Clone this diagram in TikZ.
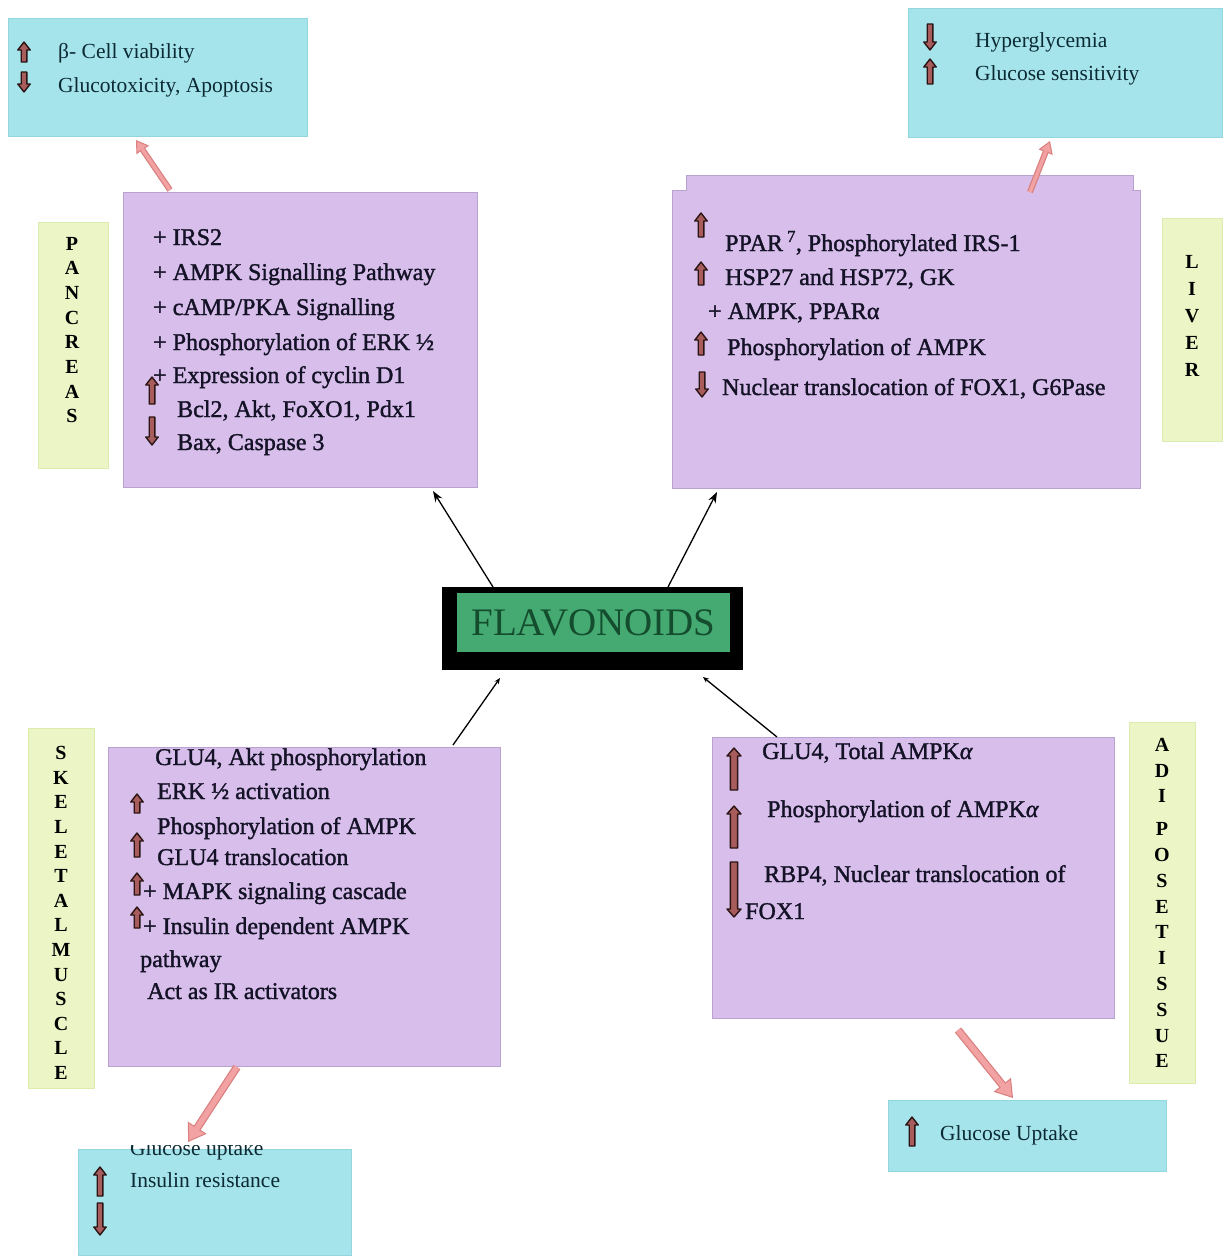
\documentclass[tikz,border=0pt]{standalone}
\usepackage{fontspec}
\setmainfont{Liberation Serif}
\newfontfamily\heavyserif[FakeBold=1.4]{Liberation Serif}
\usetikzlibrary{arrows.meta,calc}
\definecolor{cyanbox}{HTML}{A6E4EC}
\definecolor{cyanedge}{HTML}{93D6DF}
\definecolor{purplebox}{HTML}{D8BFEB}
\definecolor{purpleedge}{HTML}{B9A2CF}
\definecolor{labelfill}{HTML}{EBF5C6}
\definecolor{labeledge}{HTML}{DCEBAE}
\definecolor{pinkfill}{HTML}{F2A2A2}
\definecolor{pinkedge}{HTML}{D98080}
\definecolor{arrfill}{HTML}{A85C5C}
\definecolor{arredge}{HTML}{2A1414}
\definecolor{flavgreen}{HTML}{45AA72}
\definecolor{flavtext}{HTML}{134D2E}
\definecolor{txt}{HTML}{141226}
\definecolor{cyantxt}{HTML}{0C2A34}
\begin{document}
\begin{tikzpicture}[x=1pt,y=-1pt,
  cbox/.style={fill=cyanbox, draw=cyanedge, line width=1pt, inner sep=0pt, outer sep=0pt, anchor=north west},
  pbox/.style={fill=purplebox, draw=purpleedge, line width=1pt, inner sep=0pt, outer sep=0pt, anchor=north west},
  lbox/.style={fill=labelfill, draw=labeledge, line width=1pt, inner sep=0pt, outer sep=0pt, anchor=north west},
  ptxt/.style={anchor=base west, inner sep=0pt, font=\heavyserif\fontsize{24}{28}\selectfont, text=txt},
  ctxt/.style={anchor=base west, inner sep=0pt, font=\fontsize{21.5}{26}\selectfont, text=cyantxt},
  vlab/.style={align=center, inner sep=0pt, font=\fontsize{20}{#1}\selectfont\bfseries, text=black},
  conn/.style={draw=black, line width=1.3pt, -{Stealth[length=11pt,width=8pt]}},
  connsmall/.style={draw=black, line width=1.3pt, -{Stealth[length=6pt,width=5pt]}},
  pinkarr/.style={draw=pinkedge, line width=#1, -{Triangle[line width=1pt, length=12pt, width=15pt, fill=pinkfill]},
     postaction={draw=pinkfill, line width=#1-2.5pt, -, shorten >=11pt}},
  bigpinkarr/.style={draw=pinkedge, line width=#1, -{Triangle[line width=1pt, length=17pt, width=22pt, fill=pinkfill]},
     postaction={draw=pinkfill, line width=#1-2.5pt, -, shorten >=15pt}},
  arrowbody/.style={fill=arrfill, draw=arredge, line width=1.4pt, line join=round},
  aw/.store in=\arrw, aw=2.8,
  uparr/.pic={\filldraw[arrowbody] (-\arrw,0) -- (\arrw,0) -- (\arrw,{-#1+8}) -- ({\arrw+3.4},{-#1+8}) -- (0,{-#1}) -- ({-\arrw-3.4},{-#1+8}) -- (-\arrw,{-#1+8}) -- cycle;},
  downarr/.pic={\filldraw[arrowbody] (-\arrw,0) -- (\arrw,0) -- (\arrw,{#1-8}) -- ({\arrw+3.4},{#1-8}) -- (0,{#1}) -- ({-\arrw-3.4},{#1-8}) -- (-\arrw,{#1-8}) -- cycle;}
]
\useasboundingbox[fill=white] (0,0) rectangle (1228,1256);

% ---------- cyan result boxes ----------
\node[cbox, minimum width=299pt, minimum height=118pt] (tl) at (8,18) {};
\pic at (24,62) {uparr=20};
\pic at (24,72) {downarr=20};
\node[ctxt] (tl1) at (58,58) {β- Cell viability};
\node[ctxt] (tl2) at (58,92) {Glucotoxicity, Apoptosis};

\node[cbox, minimum width=314pt, minimum height=129pt] (tr) at (908,8) {};
\pic at (930,24) {downarr=26};
\pic at (930,84) {uparr=25};
\node[ctxt] (tr1) at (975,47) {Hyperglycemia};
\node[ctxt] (tr2) at (975,80) {Glucose sensitivity};

\node[cbox, minimum width=278pt, minimum height=71pt] (gu) at (888,1100) {};
\pic at (912,1146) {uparr=29};
\node[ctxt] (gu1) at (940,1140) {Glucose Uptake};

\node[cbox, minimum width=273pt, minimum height=106pt] (bl) at (78,1149) {};
\pic at (100,1196) {uparr=29};
\pic at (100,1203) {downarr=32};
\begin{scope}
  \clip (120,1145) rectangle (320,1170);
  \node[ctxt] (bl0) at (130,1155) {Glucose uptake};
\end{scope}
\node[ctxt] (bl1) at (130,1187) {Insulin resistance};

% ---------- organ labels ----------
\node[lbox, minimum width=70pt, minimum height=246pt] (plab) at (38,222) {};
\node[vlab=24.7] (plabt) at (72,330) {P\\A\\N\\C\\R\\E\\A\\S};

\node[lbox, minimum width=60pt, minimum height=223pt] (llab) at (1162,218) {};
\node[vlab=27] (llabt) at (1192,316) {L\\I\\V\\E\\R};

\node[lbox, minimum width=66pt, minimum height=360pt] (slab) at (28,728) {};
\node[vlab=24.6] (slabt) at (61,913) {S\\K\\E\\L\\E\\T\\A\\L\\M\\U\\S\\C\\L\\E};

\node[lbox, minimum width=66pt, minimum height=361pt] (alab) at (1129,722) {};
\node[vlab=25.8] (alabt) at (1162,903) {A\\D\\I\\[7pt]P\\O\\S\\E\\T\\I\\S\\S\\U\\E};

% ---------- pancreas ----------
\node[pbox, minimum width=354pt, minimum height=295pt] (panc) at (123,192) {};
\node[ptxt] (p1) at (153,245) {+ IRS2};
\node[ptxt] (p2) at (153,280) {+ AMPK Signalling Pathway};
\node[ptxt] (p3) at (153,315) {+ cAMP/PKA Signalling};
\node[ptxt] (p4) at (153,350) {+ Phosphorylation of ERK ½};
\node[ptxt] (p5) at (153,383) {+ Expression of cyclin D1};
\node[ptxt] (p6) at (177,417) {Bcl2, Akt, FoXO1, Pdx1};
\node[ptxt] (p7) at (177,450) {Bax, Caspase 3};
\pic at (152,404) {uparr=27};
\pic at (152,417) {downarr=28};

% ---------- liver ----------
\fill[purplebox] (686,175) rectangle (1133,196);
\draw[purpleedge, line width=1pt] (686,196) -- (686,175) -- (1133,175) -- (1133,196);
\node[pbox, minimum width=468pt, minimum height=298pt] (liver) at (672,190) {};
\fill[purplebox] (687,186) rectangle (1132,196);
\node[ptxt] (l1) at (725,251) {PPAR\,\textsuperscript{7}, Phosphorylated IRS-1};
\node[ptxt] (l2) at (725,285) {HSP27 and HSP72, GK};
\node[ptxt] (l3) at (708,319) {+ AMPK, PPARα};
\node[ptxt] (l4) at (727,355) {Phosphorylation of AMPK};
\node[ptxt] (l5) at (722,395) {Nuclear translocation of FOX1, G6Pase};
\pic at (701,237) {uparr=24};
\pic at (701,285) {uparr=23};
\pic at (701,355) {uparr=23};
\pic at (702,372) {downarr=25};

% ---------- skeletal muscle ----------
\node[pbox, minimum width=392pt, minimum height=319pt] (skel) at (108,747) {};
\node[ptxt] (s1) at (155,765) {GLU4, Akt phosphorylation};
\node[ptxt] (s2) at (157,799) {ERK ½ activation};
\node[ptxt] (s3) at (157,834) {Phosphorylation of AMPK};
\node[ptxt] (s4) at (157,865) {GLU4 translocation};
\node[ptxt] (s5) at (143,899) {+ MAPK signaling cascade};
\node[ptxt] (s6) at (143,934) {+ Insulin dependent AMPK};
\node[ptxt] (s7) at (140,967) {pathway};
\node[ptxt] (s8) at (147,999) {Act as IR activators};
\pic at (137,813) {uparr=19};
\pic at (137,857) {uparr=24};
\pic at (137,895) {uparr=22};
\pic at (137,928) {uparr=21};

% ---------- adipose tissue ----------
\node[pbox, minimum width=402pt, minimum height=281pt] (adip) at (712,737) {};
\node[ptxt] (a1) at (762,759) {GLU4, Total AMPK\textit{α}};
\node[ptxt] (a2) at (767,817) {Phosphorylation of AMPK\textit{α}};
\node[ptxt] (a3) at (764,882) {RBP4, Nuclear translocation of};
\node[ptxt] (a4) at (745,919) {FOX1};
\pic[aw=3.6] at (734,790) {uparr=42};
\pic[aw=3.6] at (734,848) {uparr=42};
\pic[aw=3.6] at (734,862) {downarr=55};

% ---------- FLAVONOIDS ----------
\node[fill=black, inner sep=0pt, outer sep=0pt, anchor=north west, minimum width=301pt, minimum height=83pt] (flav) at (442,587) {};
\node[fill=flavgreen, inner sep=0pt, outer sep=0pt, anchor=north west, minimum width=273pt, minimum height=59pt,
      font=\fontsize{39}{44}\selectfont, text=flavtext] (flavin) at (457,593) {FLAVONOIDS};

% ---------- connectors ----------
\draw[conn] ([xshift=51pt]flav.north west) -- ([xshift=-44pt,yshift=-4pt]panc.south east);
\draw[conn] ([xshift=-75pt]flav.north east) -- ([xshift=45pt,yshift=-4pt]liver.south west);
\draw[connsmall] ([xshift=-47pt,yshift=2pt]skel.north east) -- ([xshift=58pt,yshift=-8pt]flav.south west);
\draw[connsmall] ([xshift=65pt]adip.north west) -- ([xshift=-40pt,yshift=-7pt]flav.south east);

\draw[pinkarr=6pt] ([xshift=47pt,yshift=2pt]panc.north west) -- ([xshift=128pt,yshift=-4pt]tl.south west);
\draw[pinkarr=6pt] ([xshift=358pt,yshift=-2pt]liver.north west) -- ([xshift=142pt,yshift=-4pt]tr.south west);
\draw[bigpinkarr=8pt] ([xshift=129pt,yshift=-1pt]skel.south west) -- ([xshift=110pt,yshift=7pt]bl.north west);
\draw[bigpinkarr=8pt] ([xshift=246pt,yshift=-12pt]adip.south west) -- ([xshift=125pt,yshift=2pt]gu.north west);
\end{tikzpicture}
\end{document}
